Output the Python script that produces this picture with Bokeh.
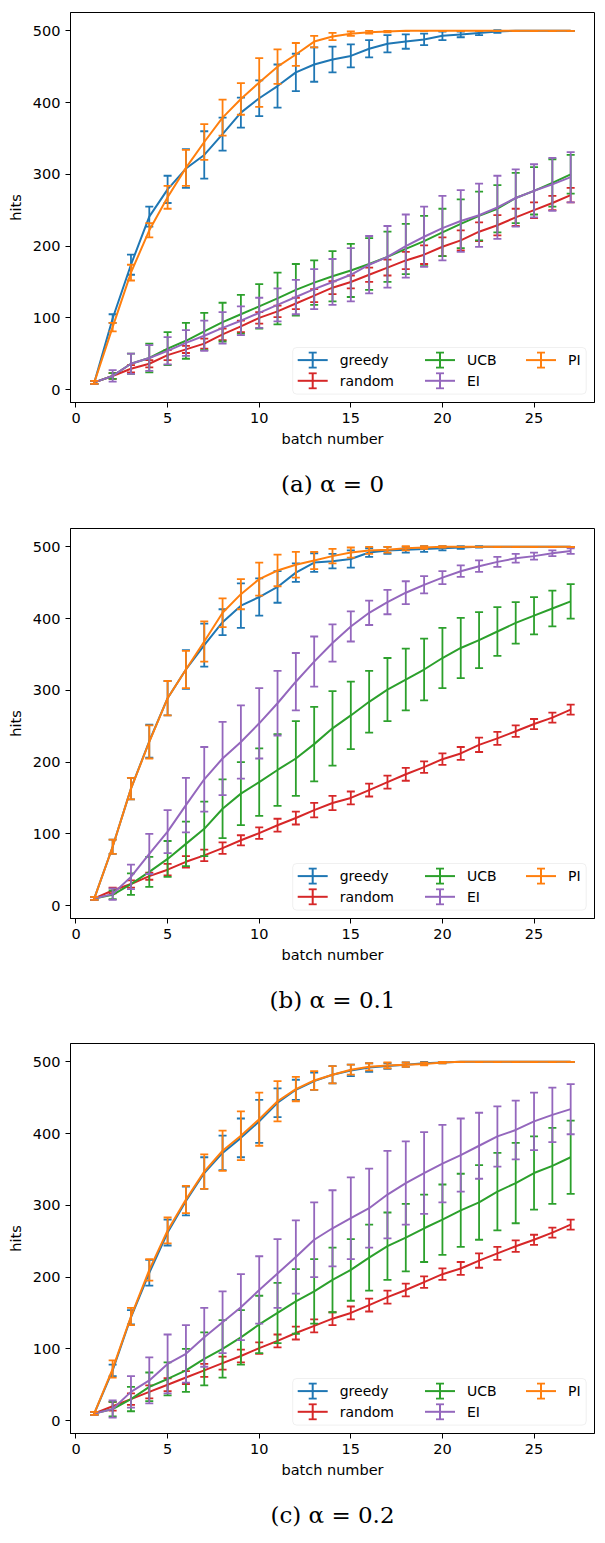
from bokeh.plotting import figure
from bokeh.models import Range1d, FixedTicker, BoxAnnotation, Label, LinearAxis
from bokeh.layouts import column
from bokeh.embed import file_html
from bokeh.resources import INLINE

# ---------------- data ----------------
batches = [1, 2, 3, 4, 5, 6, 7, 8, 9, 10, 11, 12, 13, 14, 15, 16, 17, 18, 19, 20,
           21, 22, 23, 24, 25, 26, 27]
methods = ["greedy", "random", "UCB", "EI", "PI"]
captions = ["(a) α = 0", "(b) α = 0.1", "(c) α = 0.2"]
x_ticks = [0, 5, 10, 15, 20, 25]
y_ticks = [0, 100, 200, 300, 400, 500]

# (a) alpha = 0
greedy_a = [10, 99, 174, 241, 279, 308, 327, 356, 386, 406, 423, 442, 453, 460, 465, 475, 482, 485, 488, 493, 495, 497, 499, 500, 500, 500, 500]
greedy_a_err = [2, 6, 14, 14, 19, 27, 33, 23, 21, 25, 30, 26, 24, 18, 16, 12, 12, 10, 8, 6, 4, 3, 2, 0, 0, 0, 0]
random_a = [10, 19, 29, 36, 48, 56, 64, 77, 88, 100, 109, 120, 131, 142, 150, 160, 170, 180, 188, 199, 208, 220, 229, 240, 250, 260, 271]
random_a_err = [2, 4, 5, 5, 7, 5, 7, 8, 8, 8, 8, 8, 9, 9, 9, 10, 11, 12, 13, 13, 14, 13, 14, 12, 11, 10, 10]
ucb_a = [10, 19, 36, 44, 57, 68, 81, 94, 105, 116, 127, 139, 149, 158, 166, 175, 185, 196, 207, 219, 231, 242, 252, 267, 277, 288, 300]
ucb_a_err = [2, 4, 14, 20, 23, 25, 26, 27, 27, 31, 36, 36, 31, 35, 37, 36, 35, 35, 35, 33, 34, 34, 33, 35, 33, 33, 27]
ei_a = [10, 19, 36, 44, 54, 65, 75, 86, 96, 107, 118, 129, 140, 150, 160, 174, 185, 200, 213, 225, 235, 243, 254, 267, 277, 286, 296]
ei_a_err = [2, 8, 14, 18, 19, 18, 21, 22, 20, 21, 23, 24, 28, 32, 37, 40, 43, 44, 42, 45, 43, 44, 44, 40, 37, 37, 35]
pi_a = [10, 87, 163, 222, 268, 309, 345, 379, 405, 428, 450, 467, 485, 492, 496, 498, 499, 500, 500, 500, 500, 500, 500, 500, 500, 500, 500]
pi_a_err = [2, 6, 11, 10, 16, 25, 25, 25, 22, 34, 24, 16, 8, 5, 3, 2, 1, 0, 0, 0, 0, 0, 0, 0, 0, 0, 0]

# (b) alpha = 0.1
greedy_b = [10, 82, 163, 229, 289, 329, 363, 395, 418, 430, 444, 464, 478, 480, 483, 492, 495, 496, 497, 498, 499, 500, 500, 500, 500, 500, 500]
greedy_b_err = [2, 10, 15, 23, 24, 27, 30, 18, 31, 26, 22, 13, 13, 10, 12, 6, 5, 4, 4, 3, 2, 1, 0, 0, 0, 0, 0]
random_b = [10, 21, 30, 41, 50, 61, 70, 80, 91, 101, 112, 122, 133, 143, 150, 161, 172, 183, 193, 204, 212, 224, 233, 243, 253, 262, 273]
random_b_err = [2, 4, 5, 5, 8, 8, 8, 8, 7, 8, 9, 9, 10, 10, 9, 9, 9, 9, 8, 8, 9, 10, 9, 8, 7, 7, 7]
ucb_b = [10, 15, 30, 47, 65, 86, 107, 135, 156, 172, 189, 205, 225, 247, 265, 284, 301, 315, 329, 345, 359, 370, 382, 394, 404, 414, 424]
ucb_b_err = [2, 6, 15, 21, 25, 31, 38, 41, 44, 47, 50, 52, 52, 52, 47, 43, 44, 43, 43, 42, 42, 39, 34, 29, 26, 25, 24]
ei_b = [10, 16, 40, 72, 103, 140, 176, 205, 228, 254, 282, 312, 340, 366, 389, 408, 423, 436, 447, 457, 466, 473, 479, 484, 487, 491, 494]
ei_b_err = [2, 8, 17, 28, 30, 38, 45, 51, 51, 49, 45, 40, 35, 26, 21, 17, 17, 16, 12, 9, 8, 8, 7, 6, 5, 4, 4]
pi_b = [10, 82, 163, 228, 289, 329, 368, 408, 434, 455, 467, 475, 481, 487, 492, 495, 496, 498, 499, 500, 500, 500, 500, 500, 500, 500, 500]
pi_b_err = [2, 10, 15, 23, 24, 26, 28, 20, 21, 23, 22, 18, 12, 10, 7, 5, 4, 3, 2, 1, 0, 0, 0, 0, 0, 0, 0]

# (c) alpha = 0.2
greedy_c = [10, 70, 144, 206, 262, 306, 345, 373, 394, 417, 443, 461, 473, 482, 488, 492, 494, 496, 498, 499, 500, 500, 500, 500, 500, 500, 500]
greedy_c_err = [2, 8, 10, 18, 18, 20, 22, 24, 27, 30, 20, 14, 12, 12, 8, 6, 4, 3, 2, 1, 0, 0, 0, 0, 0, 0, 0]
random_c = [10, 20, 30, 40, 50, 60, 70, 80, 90, 101, 111, 122, 132, 142, 150, 161, 172, 182, 193, 204, 212, 223, 233, 243, 252, 262, 273]
random_c_err = [2, 6, 8, 9, 9, 9, 9, 9, 9, 8, 9, 9, 9, 9, 9, 9, 9, 9, 8, 8, 9, 10, 9, 8, 7, 7, 7]
ucb_c = [10, 16, 30, 47, 58, 70, 86, 100, 116, 134, 150, 166, 180, 196, 210, 227, 243, 255, 268, 280, 293, 304, 319, 331, 345, 355, 367]
ucb_c_err = [2, 10, 17, 20, 23, 30, 37, 40, 38, 40, 42, 45, 45, 45, 43, 46, 47, 47, 47, 49, 51, 52, 54, 56, 51, 53, 51]
ei_c = [10, 16, 40, 56, 79, 93, 116, 137, 158, 182, 205, 228, 252, 268, 282, 296, 315, 331, 345, 358, 370, 383, 396, 405, 417, 426, 434]
ei_c_err = [2, 12, 22, 32, 41, 40, 41, 43, 46, 47, 48, 51, 52, 53, 57, 55, 61, 58, 57, 54, 51, 46, 42, 41, 40, 38, 35]
pi_c = [10, 72, 145, 210, 265, 308, 347, 376, 397, 420, 445, 462, 474, 482, 489, 493, 495, 496, 497, 499, 500, 500, 500, 500, 500, 500, 500]
pi_c_err = [2, 12, 12, 15, 18, 19, 24, 28, 34, 37, 28, 17, 13, 12, 7, 5, 4, 3, 2, 1, 0, 0, 0, 0, 0, 0, 0]

panels = [
    ({"greedy": greedy_a, "random": random_a, "UCB": ucb_a, "EI": ei_a, "PI": pi_a},
     {"greedy": greedy_a_err, "random": random_a_err, "UCB": ucb_a_err, "EI": ei_a_err, "PI": pi_a_err}),
    ({"greedy": greedy_b, "random": random_b, "UCB": ucb_b, "EI": ei_b, "PI": pi_b},
     {"greedy": greedy_b_err, "random": random_b_err, "UCB": ucb_b_err, "EI": ei_b_err, "PI": pi_b_err}),
    ({"greedy": greedy_c, "random": random_c, "UCB": ucb_c, "EI": ei_c, "PI": pi_c},
     {"greedy": greedy_c_err, "random": random_c_err, "UCB": ucb_c_err, "EI": ei_c_err, "PI": pi_c_err}),
]

# ---------------- style / layout ----------------
COLORS = {"greedy": "#1f77b4", "random": "#d62728", "UCB": "#2ca02c",
          "EI": "#9467bd", "PI": "#ff7f0e"}
FONT = "DejaVu Sans"
FIG_W = 605
HEIGHTS = [516, 515, 505]
BORDER_L, BORDER_R, BORDER_T = 70, 11, 12
FRAME_W, FRAME_H = FIG_W - BORDER_L - BORDER_R, 390
X0, X1 = -0.3, 28.3
Y0, Y1 = -18.0, 525.5


def px_x(px):
    return X0 + px * (X1 - X0) / FRAME_W


def px_y(py):
    return Y0 + py * (Y1 - Y0) / FRAME_H


# legend layout in frame pixels (from bottom-left of the frame)
LEG_BOX = (222.2, FRAME_W - 8.3, 8.4, 55.0)   # left, right, bottom, top
LEG_ROWS = [42.4, 21.7]
LEG_COLS = [227.2, 354.5, 455.5]
HANDLE_W, TEXT_DX, BAR_H = 30, 42, 15


def make_panel(caption, means, errs, height):
    p = figure(width=FIG_W, height=height, output_backend="svg", toolbar_location=None,
               x_range=Range1d(X0, X1), y_range=Range1d(Y0, Y1),
               min_border_left=BORDER_L, min_border_right=BORDER_R,
               min_border_top=BORDER_T, min_border_bottom=height - BORDER_T - FRAME_H)
    p.background_fill_color = "white"
    p.border_fill_color = "white"
    p.outline_line_color = "black"
    p.outline_line_width = 1
    p.outline_line_alpha = 1
    p.xgrid.visible = False
    p.ygrid.visible = False

    for ax, lab, ticks, st in ((p.xaxis, "batch number", x_ticks, 5),
                               (p.yaxis, "hits", y_ticks, 6)):
        ax.ticker = FixedTicker(ticks=ticks)
        ax.axis_label = lab
        ax.axis_label_text_font = FONT
        ax.axis_label_text_font_size = "14.5px"
        ax.axis_label_text_font_style = "normal"
        ax.axis_label_text_color = "black"
        ax.axis_label_standoff = st
        ax.major_label_text_font = FONT
        ax.major_label_text_font_size = "14.5px"
        ax.major_label_text_color = "black"
        ax.major_label_standoff = 5
        ax.axis_line_color = "black"
        ax.major_tick_line_color = "black"
        ax.major_tick_out = 5
        ax.major_tick_in = 0
        ax.minor_tick_line_color = None

    # sub-figure caption, set as the label of a bare extra axis below the x axis
    cap = LinearAxis(ticker=FixedTicker(ticks=[]), axis_label=caption,
                     axis_label_text_font="DejaVu Serif", axis_label_text_font_size="23px",
                     axis_label_text_font_style="normal", axis_label_text_color="black",
                     axis_label_standoff=21, axis_line_color=None,
                     major_tick_line_color=None, minor_tick_line_color=None,
                     major_tick_out=0, major_tick_in=0, minor_tick_out=0, minor_tick_in=0,
                     major_label_standoff=0)
    p.add_layout(cap, "below")

    for m in methods:
        c = COLORS[m]
        y = means[m]
        e = errs[m]
        lo = [v - d for v, d in zip(y, e)]
        hi = [v + d for v, d in zip(y, e)]
        p.line(batches, y, line_color=c, line_width=2)
        p.segment(x0=batches, y0=lo, x1=batches, y1=hi, line_color=c, line_width=1.8)
        p.scatter(batches, lo, marker="dash", size=8, line_color=c, line_width=1.8)
        p.scatter(batches, hi, marker="dash", size=8, line_color=c, line_width=1.8)

    # legend (3 columns, filled column-wise like matplotlib ncol=3)
    l, r, b, t = LEG_BOX
    p.add_layout(BoxAnnotation(left=px_x(l), right=px_x(r), bottom=px_y(b), top=px_y(t),
                               fill_color="white", fill_alpha=0.8, line_color="#cccccc",
                               line_width=1, border_radius=4))
    for i, m in enumerate(methods):
        c = COLORS[m]
        cx = LEG_COLS[i // 2]
        ry = LEG_ROWS[i % 2]
        xm = px_x(cx + HANDLE_W / 2)
        ylo, yhi = px_y(ry - BAR_H / 2), px_y(ry + BAR_H / 2)
        p.segment(x0=[px_x(cx), xm], y0=[px_y(ry), ylo], x1=[px_x(cx + HANDLE_W), xm],
                  y1=[px_y(ry), yhi], line_color=c, line_width=2, level="overlay")
        p.scatter([xm, xm], [ylo, yhi], marker="dash", size=8, line_color=c,
                  line_width=1.8, level="overlay")
        p.add_layout(Label(x=px_x(cx + TEXT_DX), y=px_y(ry), text=m, text_font=FONT,
                           text_font_size="14px", text_color="black",
                           text_baseline="middle", text_align="left", level="overlay"))
    return p


figs = [make_panel(captions[i], panels[i][0], panels[i][1], HEIGHTS[i]) for i in range(3)]
layout = column(*figs, spacing=0)

with open("out.html", "w") as f:
    f.write(file_html(layout, INLINE, title="hits vs batch number"))
